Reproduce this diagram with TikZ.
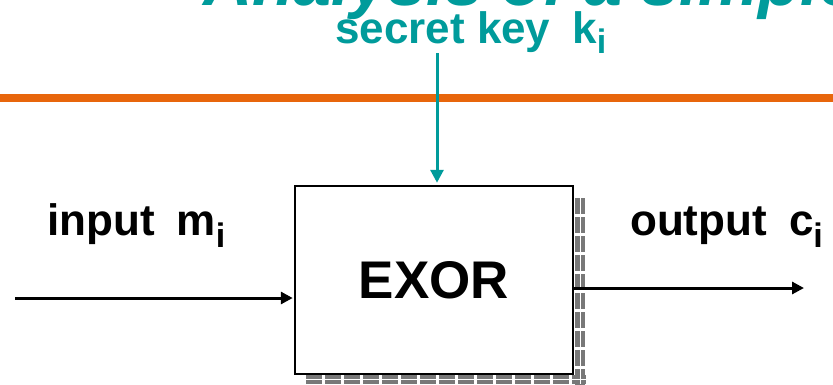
\documentclass[tikz,border=0pt]{standalone}
\usepackage{fontspec}
\setmainfont{Liberation Sans}
\usetikzlibrary{arrows.meta}
\definecolor{teal1}{RGB}{0,155,155}
\definecolor{orange1}{RGB}{232,102,12}
\definecolor{shadowgray}{RGB}{120,120,120}
\newcommand{\mysub}[2]{{\fontsize{#1}{#1}\selectfont\raisebox{-#2}{i}}}
\begin{document}
\begin{tikzpicture}[x=1pt,y=-1pt,
  lbl/.style={inner sep=0pt,anchor=base west,font=\fontsize{44}{44}\selectfont\bfseries},
  conn/.style={line width=3pt},
  blockbox/.style={draw=black,line width=2.5pt,fill=white,minimum width=278pt,minimum height=188pt,inner sep=0pt,font=\fontsize{53}{53}\selectfont\bfseries}]
\useasboundingbox (0,0) rectangle (833,384);
\clip (0,0) rectangle (833,384);
% title (cut off at the top)
\node[inner sep=0pt,anchor=base west,text=teal1,font=\fontsize{68}{68}\selectfont\bfseries\itshape] (title) at (203,5) {Analysis of a simple};
% orange rule
\coordinate (ruleL) at (0,98);
\coordinate (ruleR) at (833,98);
\draw[orange1,line width=8pt] (ruleL) -- (ruleR);
% shadow
\draw[shadowgray,line width=10pt,dash pattern=on 16pt off 3pt] (580,198) -- (580,388);
\draw[shadowgray,line width=9pt,dash pattern=on 16pt off 3pt] (306,379) -- (586,379);
\draw[white,line width=1pt] (580,198) -- (580,384);
\draw[white,line width=1pt] (306,379) -- (586,379);
% block
\node[blockbox] (exor) at (434,280) {EXOR};
% labels
\node[lbl,text=teal1] (key) at (335,43) {secret key\hspace{0.5em}k\mysub{34pt}{10pt}};
\node[lbl] (inlbl) at (47,235) {input\hspace{0.5em}m\mysub{34pt}{12pt}};
\node[lbl] (outlbl) at (630,235) {output\hspace{0.5em}c\mysub{34pt}{12pt}};
% connectors
\coordinate (keyT) at (437,53);
\coordinate (inL) at (15,298);
\coordinate (outR) at (804,288);
\draw[conn,teal1,-{Triangle[length=13pt,width=13pt]},shorten >=2pt] (keyT) -- (keyT |- exor.north);
\draw[conn,-{Triangle[length=12pt,width=12pt]},shorten >=1pt] (inL) -- (inL -| exor.west);
\draw[conn,-{Triangle[length=12pt,width=12pt]}] (outR -| exor.east) -- (outR);
\end{tikzpicture}
\end{document}
